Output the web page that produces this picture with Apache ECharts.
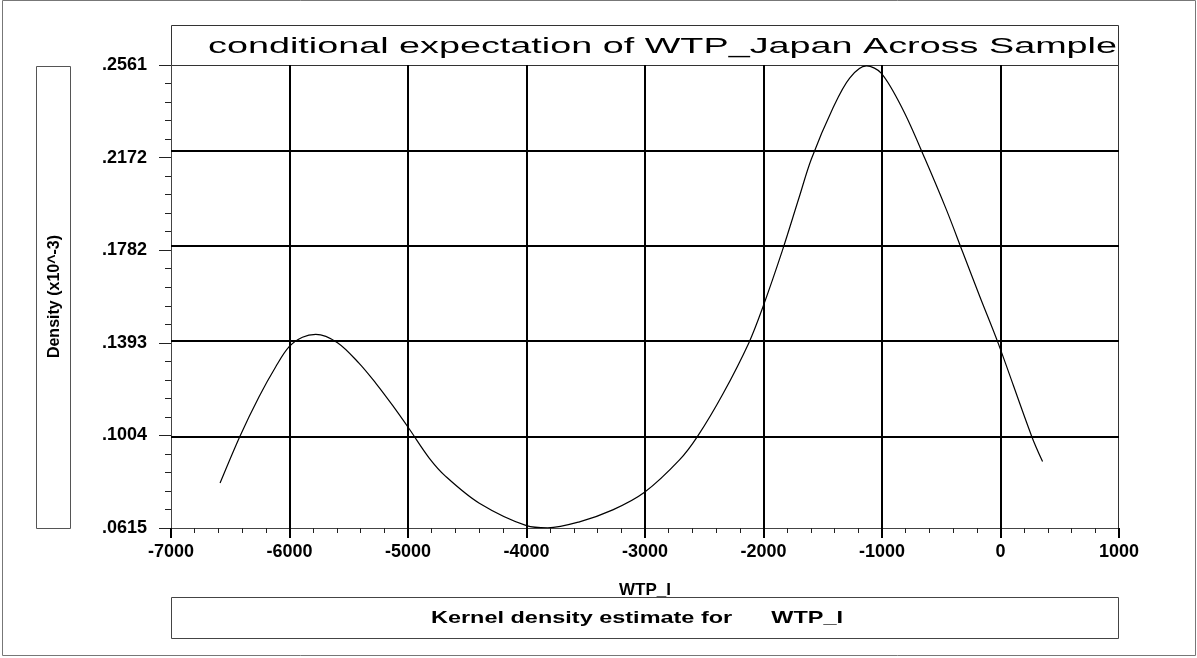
<!DOCTYPE html>
<html>
<head>
<meta charset="utf-8">
<script src="https://cdn.jsdelivr.net/npm/echarts@6/dist/echarts.min.js"></script>
<style>
html,body{margin:0;padding:0;background:#fff;}
#chart{width:1197px;height:658px;}
</style>
</head>
<body>
<div id="chart"></div>
<script>
// ---- data ----
const titleText = 'conditional expectation of WTP_Japan Across Sample';
const xName = 'WTP_I';
const yName = 'Density (x10^-3)';
const noteText = 'Kernel density estimate for      WTP_I';

const xTickLabels = ['-7000', '-6000', '-5000', '-4000', '-3000', '-2000', '-1000', '0', '1000'];
const yTickLabels = ['.0615', '.1004', '.1393', '.1782', '.2172', '.2561'];

const wtp = [-6586, -6417, -6257, -6116, -6003, -5891, -5778, -5595, -5412, -5271, -5130, -4989, -4821, -4680, -4398, -4000, -3821, -3553, -3272, -3004, -2709, -2554, -2343, -2123, -2005, -1841, -1701, -1596, -1414, -1273, -1131, -1005, -822, -639, -456, -320, -174, -19, 262, 355];
const density = [0.0804, 0.1002, 0.1167, 0.1293, 0.1377, 0.1417, 0.1429, 0.1394, 0.1307, 0.1223, 0.1130, 0.1031, 0.0909, 0.0831, 0.0719, 0.0625, 0.0616, 0.0641, 0.0691, 0.0765, 0.0901, 0.1002, 0.1178, 0.1394, 0.1544, 0.1781, 0.2002, 0.2166, 0.2380, 0.2506, 0.2557, 0.2526, 0.2372, 0.2169, 0.1952, 0.1776, 0.1587, 0.1391, 0.1002, 0.0894];

// ---- derived ----
const xVals = xTickLabels.map(Number);
const xMin = xVals[0], xMax = xVals[xVals.length - 1];
const xInterval = xVals[1] - xVals[0];
const yVals = yTickLabels.map(s => parseFloat('0' + s));
const yMin = yVals[0], yMax = yVals[yVals.length - 1];
const yInterval = +((yMax - yMin) / (yVals.length - 1)).toFixed(6);

const seriesData = wtp.map((x, i) => [x, density[i]]);
const gridLines = []
  .concat(xVals.slice(1, -1).map(v => ({ xAxis: v })))
  .concat(yVals.slice(1, -1).map(v => ({ yAxis: v })));

const FAMILY = '"Liberation Sans", Arial, sans-serif';
const labelFont = { color: '#000', fontFamily: FAMILY, fontWeight: 'bold', fontSize: 18 };

// stretch factors so the texts span the same width as in the reference
const mctx = document.createElement('canvas').getContext('2d');
const titleFont = '22px ' + FAMILY;
mctx.font = titleFont;
const titleScale = 909 / mctx.measureText(titleText).width;
const noteFont = 'bold 17px ' + FAMILY;
mctx.font = noteFont;
const noteScale = 412 / mctx.measureText(noteText).width;

const chart = echarts.init(document.getElementById('chart'), null, { renderer: 'canvas' });
chart.setOption({
  animation: false,
  backgroundColor: '#fff',
  grid: { left: 171, right: 78, top: 65, bottom: 130, containLabel: false },
  xAxis: {
    type: 'value', min: xMin, max: xMax, interval: xInterval,
    name: xName, nameLocation: 'middle', nameGap: 54,
    nameTextStyle: Object.assign({}, labelFont, { fontSize: 17 }),
    axisLine: { show: true, onZero: false, lineStyle: { color: '#444', width: 1 } },
    axisTick: { show: true, inside: false, length: 10, lineStyle: { color: '#000', width: 2 } },
    minorTick: { show: true, splitNumber: 5, length: 5, lineStyle: { color: '#222', width: 1 } },
    axisLabel: Object.assign({ margin: 15, formatter: (v) => xTickLabels[Math.round((v - xMin) / xInterval)] }, labelFont),
    splitLine: { show: false }
  },
  yAxis: {
    type: 'value', min: yMin, max: yMax, interval: yInterval,
    name: yName, nameLocation: 'middle', nameGap: 108, nameRotate: 90,
    nameTextStyle: Object.assign({}, labelFont, { fontSize: 16 }),
    axisLine: { show: true, onZero: false, lineStyle: { color: '#444', width: 1 } },
    axisTick: { show: true, inside: false, length: 12, lineStyle: { color: '#222', width: 1 } },
    minorTick: { show: true, splitNumber: 5, length: 6, lineStyle: { color: '#222', width: 1 } },
    axisLabel: Object.assign({ margin: 24, formatter: (v) => yTickLabels[Math.round((v - yMin) / yInterval)] }, labelFont),
    splitLine: { show: false }
  },
  series: [{
    type: 'line',
    data: seriesData,
    smooth: 0.33,
    showSymbol: false,
    lineStyle: { color: '#000', width: 1.2 },
    z: 5,
    markLine: {
      silent: true,
      symbol: ['none', 'none'],
      label: { show: false },
      lineStyle: { color: '#000', width: 2, type: 'solid' },
      data: gridLines,
      z: 2
    }
  }],
  graphic: [
    { type: 'rect', shape: { x: 2.5, y: 0.5, width: 1193, height: 655 }, style: { fill: 'none', stroke: '#777', lineWidth: 1 }, silent: true },
    { type: 'rect', shape: { x: 171.5, y: 25.5, width: 947, height: 40 }, style: { fill: 'none', stroke: '#333', lineWidth: 1 }, silent: true },
    { type: 'rect', shape: { x: 1118.5, y: 65.5, width: 0, height: 463 }, style: { fill: 'none', stroke: '#333', lineWidth: 1 }, silent: true },
    { type: 'rect', shape: { x: 36.5, y: 66.5, width: 34, height: 462 }, style: { fill: 'none', stroke: '#555', lineWidth: 1 }, silent: true },
    { type: 'rect', shape: { x: 171.5, y: 597.5, width: 947, height: 41 }, style: { fill: 'none', stroke: '#444', lineWidth: 1 }, silent: true },
    { type: 'text', x: 208, y: 47, scaleX: titleScale, scaleY: 1, silent: true,
      style: { text: titleText, x: 0, y: 0, font: titleFont, fill: '#000', textAlign: 'left', textVerticalAlign: 'middle' } },
    { type: 'text', x: 431, y: 618, scaleX: noteScale, scaleY: 1, silent: true,
      style: { text: noteText, x: 0, y: 0, font: noteFont, fill: '#000', textAlign: 'left', textVerticalAlign: 'middle' } }
  ]
});
</script>
</body>
</html>
